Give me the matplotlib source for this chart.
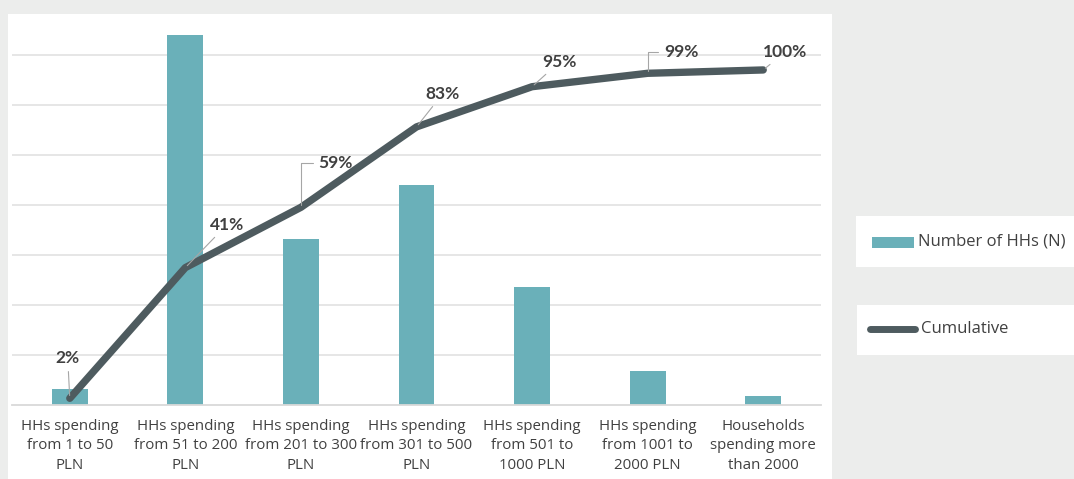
import matplotlib
matplotlib.use("Agg")
import matplotlib.pyplot as plt
from matplotlib.patches import Rectangle
from matplotlib.lines import Line2D

categories = [
    "HHs spending\nfrom 1 to 50\nPLN",
    "HHs spending\nfrom 51 to 200\nPLN",
    "HHs spending\nfrom 201 to 300\nPLN",
    "HHs spending\nfrom 301 to 500\nPLN",
    "HHs spending\nfrom 501 to\n1000 PLN",
    "HHs spending\nfrom 1001 to\n2000 PLN",
    "Households\nspending more\nthan 2000",
]
households = [32, 740, 332, 440, 236, 68, 18]
cumulative = [2, 41, 59, 83, 95, 99, 100]
cum_labels = ["2%", "41%", "59%", "83%", "95%", "99%", "100%"]

BAR = "#6ab0b9"
LINE = "#4e5b5f"
TXT = "#404040"
BG = "#ecedec"

W, H = 1074, 479
fig = plt.figure(figsize=(W / 100, H / 100), dpi=100)
fig.patch.set_facecolor(BG)

def fx(px):
    return px / W

def fy(py):
    return 1 - py / H

# white chart panel
fig.patches.append(Rectangle((fx(8), 0), fx(832) - fx(8), fy(14), transform=fig.transFigure,
                             facecolor="white", edgecolor="none", zorder=-10))
# legend boxes
fig.patches.append(Rectangle((fx(856), fy(267)), fx(1074) - fx(856), (267 - 216) / H,
                             transform=fig.transFigure, facecolor="white", edgecolor="none", zorder=-10))
fig.patches.append(Rectangle((fx(857), fy(355)), fx(1074) - fx(857), (355 - 305) / H,
                             transform=fig.transFigure, facecolor="white", edgecolor="none", zorder=-10))

ax = fig.add_axes([fx(12), fy(405), fx(821) - fx(12), (405 - 15) / H])
ax.set_facecolor("none")
x = list(range(len(categories)))
ax.bar(x, households, width=0.31, color=BAR, zorder=2)
ax.set_xlim(-0.5, 6.5)
ax.set_ylim(0, 780)
ax.set_yticks([100 * i for i in range(1, 8)])
ax.yaxis.grid(True, color="#e4e4e4", linewidth=1.3, zorder=0)
ax.set_axisbelow(True)
ax.set_yticklabels([])
ax.tick_params(axis="y", length=0)
ax.tick_params(axis="x", length=0, pad=10)
ax.set_xticks(x)
ax.set_xticklabels(categories, fontsize=10.8, color=TXT, family=["Open Sans", "DejaVu Sans"],
                   linespacing=1.4)
for s in ["top", "right", "left"]:
    ax.spines[s].set_visible(False)
ax.spines["bottom"].set_color("#d9d9d9")
ax.spines["bottom"].set_linewidth(1.3)

ax2 = ax.twinx()
ax2.set_ylim(0, 116.4)
ax2.plot(x, cumulative, color=LINE, linewidth=5.3, solid_capstyle="round",
         solid_joinstyle="round", zorder=3)
ax2.axis("off")

# label offsets in points (text center relative to data point), and connection styles
offsets = [(-1.5, 29), (30, 31), (25, 32), (19, 24), (20, 18), (24, 15), (16, 13)]
conns = ["arc3", "arc3", "angle,angleA=0,angleB=90,rad=0", "arc3", "arc3",
         "angle,angleA=0,angleB=90,rad=0", "arc3"]
for xi, yi, lab, off, cs in zip(x, cumulative, cum_labels, offsets, conns):
    ax2.annotate(lab, xy=(xi, yi), xytext=off, textcoords="offset points",
                 ha="center", va="center", fontsize=12.5, fontweight="bold", color=TXT,
                 family=["Lato", "DejaVu Sans"],
                 arrowprops=dict(arrowstyle="-", color="#a6a6a6", lw=0.8,
                                 connectionstyle=cs, shrinkA=2, shrinkB=2),
                 zorder=4)

# legend entries
fig.patches.append(Rectangle((fx(872), fy(248)), fx(914) - fx(872), 11 / H,
                             transform=fig.transFigure, facecolor=BAR, edgecolor="none"))
fig.text(fx(918), fy(242), "Number of HHs (N)", fontsize=12, color=TXT, va="center",
         family=["Open Sans", "DejaVu Sans"])
fig.lines.append(Line2D([fx(870), fx(915)], [fy(329), fy(329)], transform=fig.transFigure,
                        color=LINE, linewidth=5, solid_capstyle="round"))
fig.text(fx(921), fy(329), "Cumulative", fontsize=12, color=TXT, va="center",
         family=["Open Sans", "DejaVu Sans"])

fig.savefig("out.png", dpi=100, facecolor=BG)
